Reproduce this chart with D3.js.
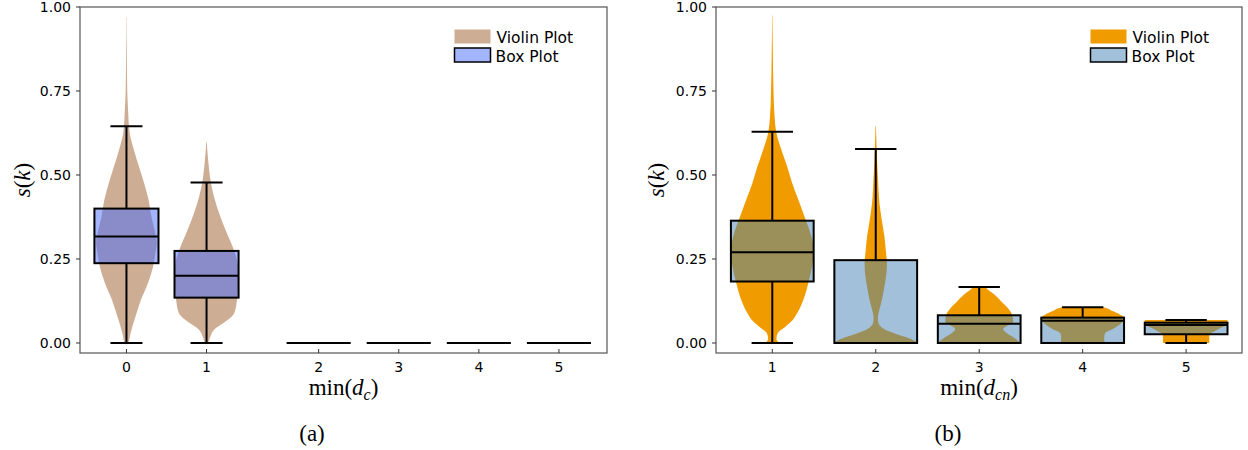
<!DOCTYPE html>
<html>
<head>
<meta charset="utf-8">
<script src="https://cdn.jsdelivr.net/npm/d3@7"></script>
<style>
  html, body { margin: 0; padding: 0; background: #fff; }
  svg { display: block; }
  text { font-family: "DejaVu Sans", sans-serif; fill: #000; }
  .serif { font-family: "Liberation Serif", "DejaVu Serif", serif; }
</style>
</head>
<body>
<svg id="chart" width="1248" height="450"></svg>
<script>
// ---------------- DATA ----------------
const yTicks = [0, 0.25, 0.5, 0.75, 1.0];

// Panel (a)
const catsA = ["0", "1", "2", "3", "4", "5"];
const xValA = [0.5, 1.5, 2.9, 3.9, 4.9, 5.9];
// [lower whisker, Q1, median, Q3, upper whisker]
const boxA = [
  [0, 0.2375, 0.317, 0.400, 0.645],
  [0, 0.135, 0.200, 0.274, 0.478],
  [0, 0, 0, 0, 0],
  [0, 0, 0, 0, 0],
  [0, 0, 0, 0, 0],
  [0, 0, 0, 0, 0]
];
// violin profiles: [s value, relative density]
const violinA0 = [[0,0.07],[0.03,0.13],[0.078,0.28],[0.128,0.45],[0.178,0.67],[0.227,0.83],[0.27,0.91],[0.3,0.95],[0.327,0.9],[0.376,0.78],[0.426,0.69],[0.476,0.55],[0.525,0.39],[0.575,0.23],[0.626,0.1],[0.694,0.05],[0.75,0.025],[0.85,0.012],[0.97,0.004]];
const violinA1 = [[0,0.06],[0.019,0.12],[0.039,0.23],[0.063,0.58],[0.088,0.86],[0.128,0.95],[0.16,0.98],[0.188,1.0],[0.2375,0.97],[0.287,0.81],[0.337,0.59],[0.387,0.39],[0.436,0.23],[0.486,0.12],[0.535,0.06],[0.6,0.005]];
const violinsA = [violinA0, violinA1, null, null, null, null];

// Panel (b)
const catsB = ["1", "2", "3", "4", "5"];
const xValB = [1, 2, 3, 4, 5];
const boxB = [
  [0, 0.183, 0.270, 0.364, 0.629],
  [0, 0, 0, 0.2465, 0.577],
  [0, 0, 0.0575, 0.0825, 0.167],
  [0, 0, 0.066, 0.0755, 0.106],
  [0, 0.026, 0.0537, 0.0605, 0.0686]
];
const violinB1 = [[0,0.17],[0.012,0.1],[0.029,0.13],[0.05,0.33],[0.069,0.5],[0.078,0.55],[0.128,0.75],[0.183,0.88],[0.227,0.96],[0.277,1.0],[0.327,0.92],[0.376,0.78],[0.426,0.63],[0.476,0.48],[0.525,0.36],[0.575,0.22],[0.625,0.1],[0.674,0.055],[0.75,0.03],[0.85,0.015],[0.975,0.004]];
const violinB2 = [[0,1.0],[0.009,0.9],[0.019,0.68],[0.029,0.44],[0.04,0.22],[0.049,0.12],[0.062,0.06],[0.075,0.05],[0.095,0.08],[0.118,0.13],[0.168,0.21],[0.21,0.26],[0.24,0.27],[0.267,0.25],[0.317,0.21],[0.367,0.145],[0.416,0.09],[0.486,0.055],[0.55,0.03],[0.645,0.006]];
const violinB3 = [[0,1.0],[0.014,0.86],[0.028,0.68],[0.042,0.58],[0.0635,0.82],[0.0835,0.8],[0.103,0.7],[0.123,0.54],[0.143,0.38],[0.16,0.2],[0.1668,0.15],[0.167,0]];
const violinB4 = [[0,0.53],[0.015,0.52],[0.029,0.54],[0.044,0.76],[0.059,0.93],[0.075,1.0],[0.085,0.9],[0.095,0.72],[0.1058,0.52],[0.106,0]];
const violinB5 = [[0,0.56],[0.026,0.56],[0.035,0.69],[0.045,0.84],[0.05,0.93],[0.058,0.99],[0.062,1.0],[0.0684,1.0],[0.0686,0]];
const violinsB = [violinB1, violinB2, violinB3, violinB4, violinB5];

const legendLabels = ["Violin Plot", "Box Plot"];

// ---------------- DRAW ----------------
const svg = d3.select("#chart");

function panel(opts) {
  const { left, right, top, bottom, xDomain, cats, xVals, boxes, violins,
          violinFill, violinOpacity, boxFill, boxOpacity, sub, yTitleX, caption, captionX } = opts;
  const g = svg.append("g");
  const x = d3.scaleLinear().domain(xDomain).range([left, right]);
  const y = d3.scaleLinear().domain([-0.0298, 1.0]).range([bottom, top]);
  const unit = x(1) - x(0);
  const boxW = 0.8 * unit;
  const halfV = 0.4 * unit;

  // violins
  violins.forEach((v, i) => {
    if (!v) return;
    const cx = x(xVals[i]);
    const data = v.slice().sort((a, b) => b[0] - a[0]);
    const area = d3.area()
      .y(d => y(d[0]))
      .x0(d => cx - d[1] * halfV)
      .x1(d => cx + d[1] * halfV)
      .curve(d3.curveMonotoneY);
    g.append("path").attr("d", area(data))
      .attr("fill", violinFill).attr("fill-opacity", violinOpacity).attr("stroke", "none");
  });

  // boxes
  boxes.forEach((b, i) => {
    const cx = x(xVals[i]);
    const [lo, q1, med, q3, hi] = b;
    g.append("line").attr("x1", cx).attr("x2", cx).attr("y1", y(q3)).attr("y2", y(hi))
      .attr("stroke", "#000").attr("stroke-width", 2);
    g.append("line").attr("x1", cx).attr("x2", cx).attr("y1", y(q1)).attr("y2", y(lo))
      .attr("stroke", "#000").attr("stroke-width", 2);
    [lo, hi].forEach(v => {
      g.append("line").attr("x1", cx - boxW / 4).attr("x2", cx + boxW / 4)
        .attr("y1", y(v)).attr("y2", y(v)).attr("stroke", "#000").attr("stroke-width", 2);
    });
    g.append("rect").attr("x", cx - boxW / 2).attr("width", boxW)
      .attr("y", y(q3)).attr("height", Math.max(0, y(q1) - y(q3)))
      .attr("fill", boxFill).attr("fill-opacity", boxOpacity)
      .attr("stroke", "#000").attr("stroke-width", 2);
    g.append("line").attr("x1", cx - boxW / 2).attr("x2", cx + boxW / 2)
      .attr("y1", y(med)).attr("y2", y(med)).attr("stroke", "#000").attr("stroke-width", 2);
  });

  // frame
  g.append("rect").attr("x", left).attr("y", top).attr("width", right - left).attr("height", bottom - top)
    .attr("fill", "none").attr("stroke", "#555").attr("stroke-width", 1.2);

  // y ticks
  yTicks.forEach(t => {
    g.append("line").attr("x1", left - 4).attr("x2", left).attr("y1", y(t)).attr("y2", y(t))
      .attr("stroke", "#333").attr("stroke-width", 1);
    g.append("text").attr("x", left - 9).attr("y", y(t)).attr("dy", "0.36em")
      .attr("text-anchor", "end").style("font-size", "14px").text(d3.format(".2f")(t));
  });
  // x ticks
  cats.forEach((c, i) => {
    const cx = x(xVals[i]);
    g.append("line").attr("x1", cx).attr("x2", cx).attr("y1", bottom).attr("y2", bottom - 4)
      .attr("stroke", "#333").attr("stroke-width", 1);
    g.append("text").attr("x", cx).attr("y", bottom + 19)
      .attr("text-anchor", "middle").style("font-size", "14px").text(c);
  });

  // axis titles
  const xt = g.append("text").attr("class", "serif").attr("x", (left + right) / 2).attr("y", bottom + 42)
    .attr("text-anchor", "middle").style("font-size", "23px");
  xt.append("tspan").text("min(");
  xt.append("tspan").style("font-style", "italic").text("d");
  xt.append("tspan").attr("dy", 5).style("font-size", "16px").style("font-style", "italic").text(sub);
  xt.append("tspan").attr("dy", -5).text(")");

  const yt = g.append("text").attr("class", "serif")
    .attr("transform", `translate(${yTitleX},${(top + bottom) / 2}) rotate(-90)`)
    .attr("text-anchor", "middle").style("font-size", "23px");
  yt.append("tspan").style("font-style", "italic").text("s");
  yt.append("tspan").text("(");
  yt.append("tspan").style("font-style", "italic").text("k");
  yt.append("tspan").text(")");

  g.append("text").attr("class", "serif").attr("x", captionX).attr("y", 441)
    .attr("text-anchor", "middle").style("font-size", "23px").text(caption);

  // legend
  const lx = opts.legendX;
  g.append("rect").attr("x", lx).attr("y", 29.5).attr("width", 36).attr("height", 14)
    .attr("fill", violinFill).attr("fill-opacity", violinOpacity);
  g.append("rect").attr("x", lx).attr("y", 48).attr("width", 36).attr("height", 14)
    .attr("fill", boxFill).attr("fill-opacity", boxOpacity).attr("stroke", "#000").attr("stroke-width", 1.5);
  g.append("text").attr("x", lx + 42).attr("y", 43).style("font-size", "15.5px").text(legendLabels[0]);
  g.append("text").attr("x", lx + 41).attr("y", 61.5).style("font-size", "15.5px").text(legendLabels[1]);
}

panel({
  left: 80, right: 607, top: 7, bottom: 353,
  xDomain: [-0.08, 6.5], cats: catsA, xVals: xValA, boxes: boxA, violins: violinsA,
  violinFill: "#9b5b27", violinOpacity: 0.5, boxFill: "#476bff", boxOpacity: 0.5,
  sub: "c", yTitleX: 30, caption: "(a)", captionX: 312, legendX: 454.5
});
panel({
  left: 716, right: 1242, top: 7, bottom: 353,
  xDomain: [0.456, 5.54], cats: catsB, xVals: xValB, boxes: boxB, violins: violinsB,
  violinFill: "#f09c00", violinOpacity: 1, boxFill: "#4682b4", boxOpacity: 0.5,
  sub: "cn", yTitleX: 664, caption: "(b)", captionX: 948, legendX: 1090.5
});
</script>
</body>
</html>
